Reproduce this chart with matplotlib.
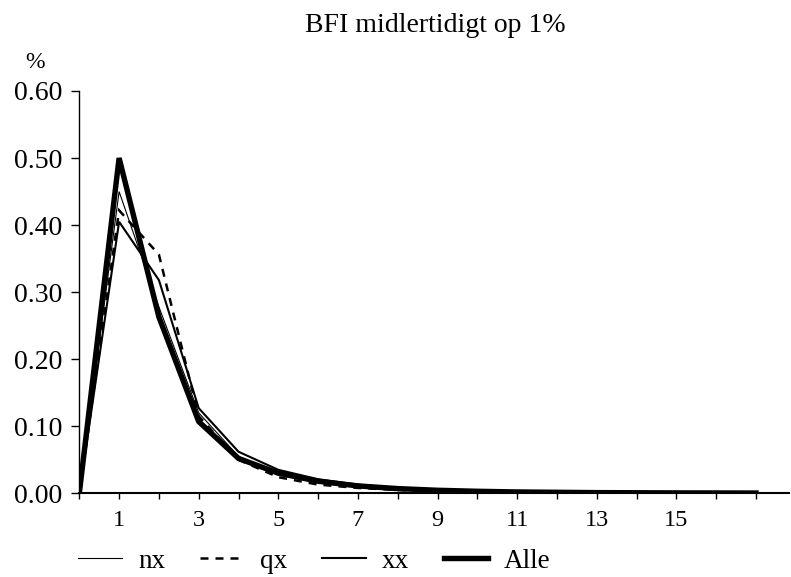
import matplotlib
matplotlib.use("Agg")
import matplotlib.pyplot as plt

periods = list(range(0, 18))
nx = [0, 0.450, 0.278, 0.120, 0.055, 0.030, 0.018, 0.011, 0.007, 0.005, 0.003, 0.002, 0.0015, 0.001, 0.001, 0.0007, 0.0005, 0.0004]
qx = [0, 0.422, 0.356, 0.115, 0.050, 0.024, 0.013, 0.008, 0.005, 0.003, 0.002, 0.0015, 0.001, 0.0007, 0.0005, 0.0004, 0.0003, 0.0002]
xx = [0, 0.405, 0.318, 0.127, 0.062, 0.035, 0.021, 0.013, 0.008, 0.005, 0.0035, 0.0025, 0.0018, 0.0013, 0.001, 0.0008, 0.0006, 0.0005]
alle = [0, 0.500, 0.263, 0.107, 0.052, 0.030, 0.018, 0.011, 0.007, 0.0045, 0.003, 0.002, 0.0015, 0.001, 0.0008, 0.0006, 0.0005, 0.0004]
x_ticks = list(range(0, 18))
x_labels = [str(t) if (t % 2 == 1 and t <= 15) else "" for t in x_ticks]
y_ticks = [0.0, 0.1, 0.2, 0.3, 0.4, 0.5, 0.6]
title = "BFI midlertidigt op 1%"

plt.rcParams['font.family'] = ['Liberation Serif', 'DejaVu Serif']

W, H = 791, 577
fig = plt.figure(figsize=(W / 100, H / 100), dpi=100)
left, right = 79.3 / W, 789 / W
bottom, top = 1 - 493.3 / H, 1 - 91 / H
ax = fig.add_axes([left, bottom, right - left, top - bottom])

ax.plot(periods, nx, color='black', lw=0.8, solid_joinstyle='miter', label='nx')
ax.plot(periods, qx, color='black', lw=1.8, dashes=(3.2, 2.8), dash_joinstyle='miter', label='qx')
ax.plot(periods, xx, color='black', lw=1.5, solid_joinstyle='miter', label='xx')
ax.plot(periods, alle, color='black', lw=3.9, solid_joinstyle='miter', label='Alle')

ax.set_xlim(0, 17.83)
ax.set_ylim(0, 0.6)
ax.spines['top'].set_visible(False)
ax.spines['right'].set_visible(False)
ax.spines['left'].set_linewidth(1.0)
ax.spines['bottom'].set_linewidth(1.5)
ax.set_xticks(x_ticks)
ax.set_xticklabels(x_labels)
ax.set_yticks(y_ticks)
ax.set_yticklabels([f"{v:.2f}" for v in y_ticks])
ax.tick_params(axis='y', direction='out', length=6, width=1, pad=6.5, labelsize=20)
ax.tick_params(axis='x', direction='out', length=4.5, width=1, pad=7.5, labelsize=17.5)

fig.text(435 / W, 1 - 25 / H, title, ha='center', va='center', fontsize=20)
fig.text(35 / W, 1 - 63 / H, "%", ha='center', va='center', fontsize=17)

fig.legend(loc='center left', bbox_to_anchor=(54 / W, 1 - 561 / H), ncol=4, frameon=False,
           fontsize=19.5, handlelength=1.6, handletextpad=0.6, columnspacing=1.3)

fig.savefig("out.png", dpi=100)
